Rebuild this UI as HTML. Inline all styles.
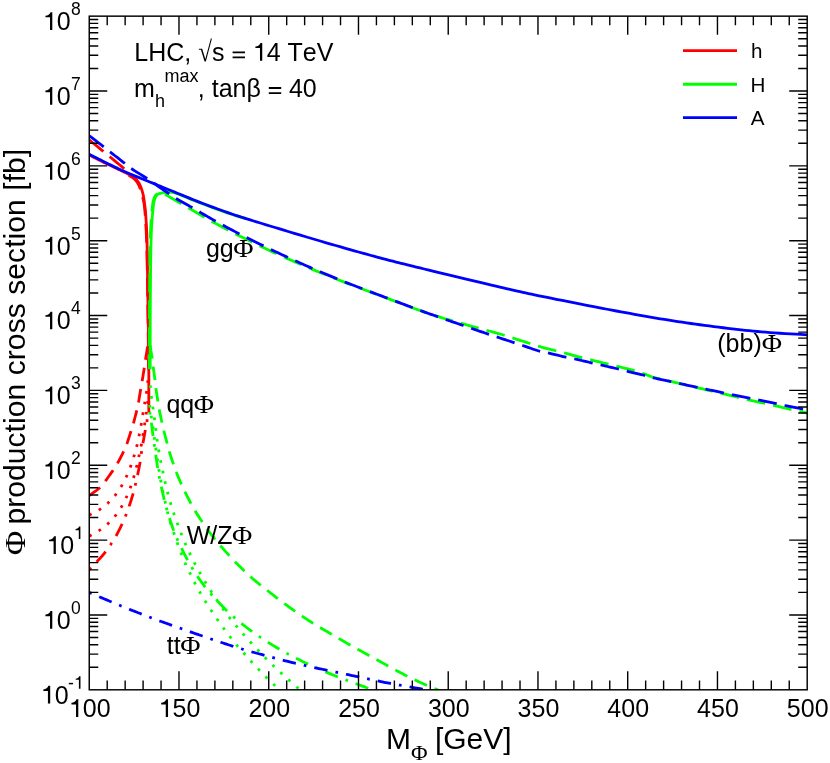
<!DOCTYPE html>
<html><head><meta charset="utf-8"><style>
html,body{margin:0;padding:0;background:#fff;}
svg{display:block;will-change:transform;}
text{font-family:"Liberation Sans",sans-serif;fill:#000;font-kerning:none;}
.ser{font-family:"Liberation Serif",serif;}
</style></head><body>
<svg width="830" height="763" viewBox="0 0 830 763">
<rect width="830" height="763" fill="#fff"/>
<defs><clipPath id="clip"><rect x="89.25" y="16.15" width="717.95" height="673.95"/></clipPath></defs>
<g clip-path="url(#clip)">
<path d="M89.30 140.00 L90.45 140.93 L92.04 142.22 L93.95 143.76 L96.02 145.44 L98.15 147.16 L100.19 148.81 L102.02 150.29 L103.50 151.50 L104.58 152.39 L105.38 153.04 L105.98 153.54 L106.48 153.97 L106.99 154.40 L107.59 154.91 L108.40 155.58 L109.50 156.50 L110.98 157.72 L112.77 159.20 L114.78 160.85 L116.88 162.58 L118.96 164.29 L120.91 165.91 L122.63 167.34 L124.00 168.50 L125.02 169.37 L125.81 170.05 L126.40 170.57 L126.84 170.97 L127.18 171.30 L127.46 171.61 L127.72 171.92 L128.00 172.30 L128.25 172.71 L128.41 173.11 L128.51 173.49 L128.56 173.86 L128.61 174.22 L128.68 174.56 L128.80 174.89 L129.00 175.20 L129.28 175.49 L129.61 175.75 L129.98 176.00 L130.38 176.23 L130.79 176.46 L131.20 176.69 L131.61 176.94 L132.00 177.20 L132.38 177.48 L132.77 177.77 L133.17 178.07 L133.56 178.37 L133.95 178.68 L134.32 178.99 L134.67 179.30 L135.00 179.60 L135.30 179.89 L135.57 180.17 L135.82 180.45 L136.06 180.72 L136.29 181.01 L136.52 181.32 L136.76 181.64 L137.00 182.00 L137.25 182.39 L137.51 182.80 L137.76 183.23 L138.02 183.68 L138.27 184.15 L138.52 184.62 L138.76 185.11 L139.00 185.60 L139.23 186.10 L139.45 186.60 L139.67 187.11 L139.88 187.63 L140.09 188.17 L140.30 188.72 L140.50 189.30 L140.70 189.90 L140.90 190.51 L141.08 191.13 L141.26 191.76 L141.44 192.42 L141.62 193.10 L141.81 193.82 L142.00 194.58 L142.20 195.40 L142.42 196.27 L142.65 197.20 L142.89 198.17 L143.13 199.18 L143.37 200.22 L143.60 201.27 L143.81 202.34 L144.00 203.40 L144.16 204.46 L144.31 205.51 L144.44 206.57 L144.56 207.65 L144.67 208.76 L144.78 209.92 L144.89 211.12 L145.00 212.40 L145.11 213.76 L145.22 215.19 L145.32 216.68 L145.42 218.21 L145.52 219.77 L145.62 221.33 L145.71 222.88 L145.80 224.40 L145.88 225.82 L145.96 227.12 L146.04 228.37 L146.11 229.65 L146.18 231.02 L146.25 232.56 L146.32 234.33 L146.40 236.40 L146.48 238.68 L146.57 241.04 L146.66 243.55 L146.74 246.27 L146.83 249.26 L146.92 252.57 L147.01 256.27 L147.10 260.40 L147.19 265.18 L147.28 270.63 L147.37 276.57 L147.46 282.77 L147.55 289.06 L147.64 295.23 L147.72 301.07 L147.80 306.40 L147.87 311.26 L147.94 315.86 L148.01 320.25 L148.08 324.46 L148.14 328.54 L148.19 332.53 L148.25 336.47 L148.30 340.40 L148.35 344.46 L148.40 348.68 L148.44 352.92 L148.48 357.02 L148.52 360.87 L148.55 364.31 L148.58 367.20 L148.60 369.40" fill="none" stroke="#ff0000" stroke-width="2.8" stroke-linejoin="round" stroke-linecap="butt" stroke-dasharray="18.90 8.10" stroke-dashoffset="0.7"/>
<path d="M89.30 155.00 L90.52 155.61 L92.14 156.44 L94.07 157.41 L96.21 158.50 L98.47 159.64 L100.76 160.79 L102.96 161.89 L105.00 162.90 L106.96 163.86 L108.99 164.84 L111.03 165.82 L113.04 166.79 L114.99 167.72 L116.83 168.59 L118.51 169.39 L120.00 170.10 L121.29 170.71 L122.41 171.24 L123.39 171.71 L124.25 172.11 L125.02 172.47 L125.72 172.80 L126.37 173.11 L127.00 173.40 L127.57 173.66 L128.03 173.87 L128.42 174.04 L128.75 174.18 L129.05 174.31 L129.34 174.45 L129.65 174.61 L130.00 174.80 L130.38 175.02 L130.75 175.25 L131.12 175.49 L131.50 175.74 L131.88 175.99 L132.25 176.26 L132.62 176.53 L133.00 176.80 L133.38 177.08 L133.77 177.37 L134.17 177.67 L134.56 177.98 L134.95 178.28 L135.32 178.59 L135.67 178.90 L136.00 179.20 L136.30 179.49 L136.57 179.77 L136.82 180.05 L137.06 180.32 L137.29 180.61 L137.52 180.92 L137.76 181.24 L138.00 181.60 L138.25 181.99 L138.51 182.40 L138.76 182.83 L139.02 183.28 L139.27 183.75 L139.52 184.22 L139.76 184.71 L140.00 185.20 L140.23 185.70 L140.45 186.20 L140.67 186.71 L140.88 187.23 L141.09 187.77 L141.30 188.32 L141.50 188.90 L141.70 189.50 L141.90 190.11 L142.09 190.73 L142.29 191.36 L142.47 192.02 L142.66 192.70 L142.84 193.42 L143.02 194.18 L143.20 195.00 L143.37 195.87 L143.55 196.80 L143.72 197.77 L143.88 198.78 L144.04 199.82 L144.20 200.87 L144.35 201.94 L144.50 203.00 L144.64 204.06 L144.78 205.11 L144.91 206.17 L145.03 207.25 L145.15 208.36 L145.27 209.52 L145.39 210.72 L145.50 212.00 L145.61 213.36 L145.72 214.79 L145.82 216.28 L145.92 217.81 L146.02 219.37 L146.12 220.93 L146.21 222.48 L146.30 224.00 L146.39 225.42 L146.47 226.72 L146.55 227.97 L146.62 229.25 L146.70 230.62 L146.77 232.16 L146.84 233.93 L146.90 236.00 L146.96 238.28 L147.01 240.64 L147.05 243.15 L147.09 245.88 L147.14 248.86 L147.18 252.17 L147.24 255.87 L147.30 260.00 L147.37 264.78 L147.46 270.23 L147.55 276.17 L147.64 282.38 L147.74 288.66 L147.83 294.83 L147.92 300.67 L148.00 306.00 L148.07 310.86 L148.14 315.46 L148.21 319.85 L148.28 324.06 L148.34 328.14 L148.39 332.13 L148.45 336.07 L148.50 340.00 L148.55 343.92 L148.60 347.79 L148.64 351.59 L148.68 355.31 L148.72 358.93 L148.75 362.43 L148.78 365.79 L148.80 369.00 L148.81 372.00 L148.82 374.77 L148.82 377.39 L148.82 379.90 L148.81 382.36 L148.81 384.82 L148.80 387.35 L148.80 390.00 L148.80 392.90 L148.80 396.07 L148.80 399.35 L148.80 402.61 L148.80 405.71 L148.80 408.50 L148.80 410.85 L148.80 412.60" fill="none" stroke="#ff0000" stroke-width="2.8" stroke-linejoin="round" stroke-linecap="butt"/>
<path d="M89.30 495.50 L90.12 494.92 L91.24 494.14 L92.57 493.20 L94.04 492.17 L95.55 491.09 L97.02 490.00 L98.37 488.95 L99.50 488.00 L100.42 487.15 L101.20 486.35 L101.90 485.59 L102.53 484.83 L103.15 484.04 L103.78 483.20 L104.46 482.27 L105.24 481.24 L106.13 480.05 L107.11 478.72 L108.13 477.29 L109.18 475.81 L110.21 474.34 L111.20 472.92 L112.11 471.60 L112.91 470.43 L113.58 469.46 L114.15 468.66 L114.63 467.97 L115.08 467.32 L115.51 466.66 L115.96 465.94 L116.47 465.08 L117.07 464.04 L117.78 462.77 L118.57 461.31 L119.42 459.72 L120.29 458.06 L121.15 456.39 L121.98 454.78 L122.73 453.28 L123.39 451.95 L123.94 450.84 L124.40 449.89 L124.79 449.06 L125.14 448.28 L125.48 447.50 L125.83 446.66 L126.20 445.69 L126.63 444.55 L127.11 443.19 L127.63 441.66 L128.17 440.01 L128.73 438.30 L129.27 436.58 L129.80 434.91 L130.30 433.34 L130.75 431.93 L131.14 430.71 L131.49 429.65 L131.81 428.68 L132.10 427.77 L132.40 426.85 L132.69 425.88 L133.01 424.82 L133.36 423.60 L133.75 422.19 L134.17 420.62 L134.61 418.95 L135.06 417.23 L135.50 415.51 L135.92 413.85 L136.31 412.30 L136.65 410.92 L136.94 409.74 L137.18 408.73 L137.39 407.84 L137.58 407.00 L137.76 406.16 L137.95 405.26 L138.15 404.24 L138.37 403.04 L138.63 401.63 L138.91 400.04 L139.20 398.33 L139.49 396.57 L139.78 394.80 L140.06 393.07 L140.33 391.46 L140.58 390.01 L140.79 388.76 L140.99 387.66 L141.16 386.66 L141.33 385.71 L141.50 384.77 L141.67 383.78 L141.86 382.70 L142.07 381.48 L142.30 380.08 L142.55 378.56 L142.82 376.94 L143.09 375.28 L143.36 373.61 L143.62 371.98 L143.87 370.43 L144.09 369.01 L144.29 367.75 L144.46 366.61 L144.62 365.55 L144.77 364.54 L144.92 363.52 L145.08 362.45 L145.26 361.29 L145.45 359.99 L145.69 358.50 L145.95 356.81 L146.24 355.02 L146.53 353.18 L146.82 351.39 L147.08 349.71 L147.31 348.22 L147.50 347.00 L147.64 346.04 L147.75 345.27 L147.82 344.67 L147.88 344.19 L147.92 343.81 L147.95 343.51 L147.97 343.25 L148.00 343.00" fill="none" stroke="#ff0000" stroke-width="2.8" stroke-linejoin="round" stroke-linecap="butt" stroke-dasharray="13.50 8.10" stroke-dashoffset="0"/>
<path d="M89.30 515.00 L89.34 514.99 L89.32 515.02 L89.30 515.05 L89.32 515.06 L89.40 515.04 L89.60 514.96 L89.95 514.78 L90.50 514.50 L91.28 514.10 L92.28 513.60 L93.44 513.02 L94.71 512.37 L96.04 511.67 L97.37 510.94 L98.65 510.20 L99.83 509.46 L100.94 508.71 L102.03 507.94 L103.12 507.13 L104.18 506.31 L105.24 505.45 L106.27 504.58 L107.28 503.69 L108.27 502.78 L109.24 501.85 L110.19 500.90 L111.13 499.93 L112.04 498.93 L112.93 497.92 L113.81 496.90 L114.67 495.86 L115.50 494.82 L116.32 493.76 L117.11 492.69 L117.89 491.61 L118.65 490.51 L119.38 489.40 L120.11 488.28 L120.81 487.15 L121.50 486.01 L122.18 484.86 L122.84 483.69 L123.48 482.51 L124.10 481.32 L124.71 480.12 L125.30 478.92 L125.89 477.71 L126.46 476.49 L127.02 475.27 L127.56 474.04 L128.09 472.80 L128.61 471.55 L129.11 470.30 L129.61 469.05 L130.09 467.79 L130.56 466.53 L131.02 465.26 L131.47 463.99 L131.90 462.72 L132.33 461.44 L132.74 460.15 L133.15 458.87 L133.55 457.58 L133.95 456.28 L134.34 454.99 L134.72 453.69 L135.10 452.38 L135.48 451.08 L135.84 449.77 L136.20 448.45 L136.54 447.14 L136.87 445.82 L137.19 444.50 L137.50 443.16 L137.80 441.83 L138.09 440.49 L138.37 439.15 L138.64 437.82 L138.91 436.50 L139.18 435.18 L139.44 433.87 L139.70 432.58 L139.96 431.29 L140.20 430.00 L140.45 428.72 L140.69 427.43 L140.92 426.13 L141.15 424.83 L141.38 423.51 L141.59 422.19 L141.80 420.86 L142.00 419.53 L142.21 418.20 L142.41 416.86 L142.63 415.52 L142.84 414.17 L143.07 412.83 L143.30 411.48 L143.53 410.12 L143.77 408.76 L144.00 407.41 L144.24 406.05 L144.47 404.69 L144.71 403.33 L144.93 402.00 L145.16 400.71 L145.39 399.43 L145.61 398.14 L145.84 396.83 L146.06 395.47 L146.28 394.03 L146.50 392.50 L146.73 390.76 L146.97 388.79 L147.22 386.69 L147.46 384.57 L147.69 382.54 L147.90 380.69 L148.07 379.14 L148.20 378.00" fill="none" stroke="#ff0000" stroke-width="2.8" stroke-linejoin="round" stroke-linecap="butt" stroke-dasharray="2.70 8.10" stroke-dashoffset="0"/>
<path d="M89.30 536.20 L89.34 536.18 L89.33 536.18 L89.31 536.19 L89.32 536.18 L89.41 536.13 L89.61 536.02 L89.96 535.81 L90.50 535.50 L91.28 535.07 L92.26 534.53 L93.41 533.91 L94.66 533.22 L95.98 532.48 L97.29 531.72 L98.56 530.95 L99.74 530.19 L100.84 529.43 L101.93 528.64 L103.02 527.83 L104.09 527.00 L105.15 526.15 L106.19 525.28 L107.21 524.40 L108.20 523.50 L109.18 522.58 L110.13 521.65 L111.07 520.69 L111.98 519.72 L112.88 518.73 L113.76 517.73 L114.62 516.71 L115.46 515.67 L116.28 514.62 L117.08 513.55 L117.86 512.47 L118.62 511.37 L119.36 510.25 L120.09 509.12 L120.80 507.97 L121.50 506.81 L122.18 505.63 L122.84 504.43 L123.49 503.21 L124.12 501.98 L124.73 500.74 L125.33 499.49 L125.91 498.24 L126.49 497.00 L127.05 495.77 L127.59 494.53 L128.12 493.29 L128.64 492.04 L129.14 490.80 L129.63 489.55 L130.11 488.29 L130.58 487.03 L131.03 485.76 L131.47 484.49 L131.89 483.21 L132.30 481.93 L132.70 480.64 L133.09 479.35 L133.48 478.06 L133.86 476.76 L134.24 475.46 L134.60 474.14 L134.96 472.82 L135.32 471.49 L135.66 470.16 L136.00 468.84 L136.33 467.53 L136.65 466.24 L136.96 464.96 L137.26 463.71 L137.55 462.46 L137.83 461.22 L138.11 459.98 L138.38 458.73 L138.66 457.47 L138.94 456.19 L139.23 454.88 L139.52 453.55 L139.81 452.22 L140.10 450.87 L140.38 449.52 L140.66 448.17 L140.93 446.83 L141.19 445.50 L141.44 444.18 L141.68 442.87 L141.91 441.57 L142.13 440.27 L142.35 438.97 L142.57 437.66 L142.79 436.34 L143.01 435.00 L143.23 433.65 L143.45 432.27 L143.67 430.88 L143.88 429.48 L144.10 428.09 L144.31 426.71 L144.52 425.34 L144.72 424.00 L144.91 422.73 L145.09 421.53 L145.27 420.36 L145.44 419.20 L145.62 418.00 L145.80 416.73 L145.99 415.34 L146.20 413.80 L146.44 411.98 L146.71 409.87 L147.00 407.59 L147.29 405.26 L147.57 403.01 L147.83 400.97 L148.04 399.26 L148.20 398.00" fill="none" stroke="#ff0000" stroke-width="2.8" stroke-linejoin="round" stroke-linecap="butt" stroke-dasharray="2.70 8.10" stroke-dashoffset="0"/>
<path d="M89.30 569.70 L89.58 569.40 L89.96 569.01 L90.40 568.54 L90.90 568.02 L91.43 567.46 L91.97 566.89 L92.50 566.33 L93.00 565.80 L93.48 565.29 L93.97 564.77 L94.46 564.25 L94.95 563.72 L95.46 563.18 L95.96 562.63 L96.48 562.08 L97.01 561.51 L97.56 560.93 L98.12 560.33 L98.70 559.72 L99.29 559.10 L99.87 558.47 L100.44 557.85 L101.00 557.24 L101.54 556.63 L102.05 556.05 L102.52 555.51 L102.97 554.98 L103.42 554.45 L103.87 553.90 L104.35 553.30 L104.86 552.65 L105.41 551.93 L106.02 551.12 L106.67 550.25 L107.35 549.32 L108.05 548.35 L108.76 547.36 L109.47 546.35 L110.17 545.33 L110.85 544.33 L111.50 543.34 L112.14 542.37 L112.78 541.39 L113.41 540.39 L114.04 539.37 L114.68 538.31 L115.34 537.19 L116.01 536.00 L116.72 534.71 L117.46 533.32 L118.22 531.86 L118.99 530.37 L119.75 528.87 L120.48 527.40 L121.17 525.99 L121.81 524.67 L122.39 523.44 L122.92 522.28 L123.41 521.17 L123.88 520.09 L124.33 519.02 L124.76 517.96 L125.20 516.88 L125.65 515.76 L126.10 514.64 L126.53 513.52 L126.95 512.42 L127.37 511.30 L127.79 510.16 L128.21 508.98 L128.64 507.75 L129.08 506.46 L129.55 505.07 L130.03 503.60 L130.53 502.07 L131.03 500.50 L131.52 498.94 L132.00 497.40 L132.45 495.92 L132.86 494.52 L133.23 493.22 L133.57 491.97 L133.88 490.77 L134.18 489.61 L134.46 488.46 L134.74 487.32 L135.02 486.17 L135.30 485.00 L135.59 483.84 L135.86 482.71 L136.12 481.59 L136.39 480.47 L136.65 479.32 L136.92 478.12 L137.20 476.85 L137.49 475.50 L137.80 474.01 L138.13 472.40 L138.48 470.71 L138.83 468.97 L139.17 467.24 L139.49 465.56 L139.79 463.97 L140.05 462.51 L140.26 461.19 L140.44 459.99 L140.59 458.87 L140.72 457.79 L140.85 456.75 L140.98 455.70 L141.12 454.61 L141.28 453.47 L141.46 452.29 L141.64 451.12 L141.83 449.94 L142.02 448.74 L142.22 447.52 L142.43 446.25 L142.65 444.94 L142.89 443.57 L143.14 442.10 L143.42 440.54 L143.72 438.91 L144.02 437.26 L144.32 435.60 L144.62 433.97 L144.91 432.41 L145.18 430.94 L145.43 429.56 L145.68 428.23 L145.91 426.95 L146.14 425.71 L146.37 424.50 L146.58 423.31 L146.80 422.15 L147.00 421.00 L147.20 419.82 L147.41 418.59 L147.62 417.37 L147.81 416.18 L148.00 415.07 L148.16 414.07 L148.29 413.24 L148.40 412.60" fill="none" stroke="#ff0000" stroke-width="2.8" stroke-linejoin="round" stroke-linecap="butt" stroke-dasharray="2.70 8.10 13.50 8.10" stroke-dashoffset="0"/>
<path d="M149.40 369.00 L149.40 366.80 L149.40 363.91 L149.40 360.47 L149.39 356.62 L149.39 352.52 L149.39 348.28 L149.40 344.06 L149.40 340.00 L149.41 336.07 L149.41 332.13 L149.42 328.14 L149.43 324.06 L149.44 319.85 L149.45 315.46 L149.47 310.86 L149.50 306.00 L149.53 300.67 L149.58 294.83 L149.62 288.66 L149.68 282.38 L149.73 276.17 L149.79 270.23 L149.84 264.78 L149.90 260.00 L149.96 255.89 L150.01 252.27 L150.07 249.04 L150.12 246.12 L150.19 243.45 L150.25 240.92 L150.32 238.47 L150.40 236.00 L150.48 233.61 L150.56 231.41 L150.65 229.37 L150.74 227.44 L150.84 225.58 L150.95 223.74 L151.07 221.90 L151.20 220.00 L151.35 218.01 L151.52 215.95 L151.70 213.87 L151.89 211.83 L152.08 209.86 L152.26 208.04 L152.44 206.40 L152.60 205.00 L152.74 203.87 L152.87 202.97 L152.99 202.26 L153.10 201.68 L153.21 201.19 L153.33 200.75 L153.46 200.30 L153.60 199.80 L153.75 199.27 L153.90 198.78 L154.06 198.32 L154.22 197.88 L154.39 197.46 L154.58 197.06 L154.78 196.68 L155.00 196.30 L155.24 195.93 L155.49 195.57 L155.76 195.22 L156.04 194.89 L156.33 194.58 L156.64 194.29 L156.96 194.03 L157.30 193.80 L157.64 193.59 L157.99 193.40 L158.35 193.23 L158.73 193.09 L159.12 192.98 L159.55 192.90 L160.00 192.88 L160.50 192.90 L161.05 192.98 L161.66 193.12 L162.30 193.31 L162.97 193.54 L163.66 193.79 L164.33 194.06 L164.98 194.34 L165.60 194.62 L166.17 194.90 L166.71 195.19 L167.23 195.50 L167.74 195.82 L168.26 196.16 L168.80 196.51 L169.38 196.87 L170.00 197.24 L170.67 197.63 L171.39 198.03 L172.13 198.46 L172.90 198.89 L173.68 199.33 L174.46 199.77 L175.24 200.22 L176.00 200.66 L176.74 201.10 L177.45 201.53 L178.16 201.97 L178.88 202.41 L179.60 202.85 L180.36 203.31 L181.15 203.79 L182.00 204.28 L182.88 204.78 L183.77 205.27 L184.68 205.77 L185.62 206.29 L186.62 206.83 L187.67 207.41 L188.79 208.03 L190.00 208.72 L191.29 209.47 L192.67 210.28 L194.12 211.14 L195.62 212.03 L197.18 212.95 L198.77 213.89 L200.38 214.83 L202.00 215.77 L203.65 216.71 L205.36 217.68 L207.10 218.67 L208.88 219.67 L210.66 220.67 L212.45 221.66 L214.24 222.65 L216.00 223.62 L217.71 224.55 L219.36 225.46 L220.99 226.34 L222.62 227.23 L224.31 228.13 L226.08 229.06 L227.96 230.05 L230.00 231.10 L232.21 232.23 L234.58 233.43 L237.06 234.68 L239.62 235.97 L242.24 237.27 L244.86 238.57 L247.46 239.85 L250.00 241.10 L252.50 242.32 L255.00 243.54 L257.50 244.76 L260.00 245.96 L262.50 247.16 L265.00 248.35 L267.50 249.53 L270.00 250.70 L272.50 251.86 L275.00 253.00 L277.50 254.14 L280.00 255.26 L282.50 256.38 L285.00 257.49 L287.50 258.60 L290.00 259.70 L292.50 260.80 L295.00 261.89 L297.50 262.98 L300.00 264.07 L302.50 265.14 L305.00 266.21 L307.50 267.27 L310.00 268.32 L312.50 269.37 L315.00 270.40 L317.50 271.43 L320.00 272.45 L322.50 273.46 L325.00 274.47 L327.50 275.47 L330.00 276.47 L332.43 277.45 L334.77 278.38 L337.06 279.30 L339.38 280.22 L341.77 281.16 L344.30 282.15 L347.02 283.21 L350.00 284.35 L353.34 285.62 L357.03 287.01 L360.96 288.49 L365.00 290.00 L369.04 291.51 L372.97 292.98 L376.66 294.35 L380.00 295.60 L382.98 296.71 L385.70 297.73 L388.23 298.67 L390.62 299.57 L392.94 300.43 L395.23 301.28 L397.57 302.15 L400.00 303.06 L402.50 303.99 L405.00 304.94 L407.50 305.88 L410.00 306.83 L412.50 307.76 L415.00 308.69 L417.50 309.61 L420.00 310.50 L422.50 311.38 L425.00 312.25 L427.50 313.11 L430.00 313.95 L432.50 314.79 L435.00 315.61 L437.50 316.41 L440.00 317.20 L442.50 317.97 L445.00 318.72 L447.50 319.45 L450.00 320.17 L452.50 320.88 L455.00 321.59 L457.50 322.29 L460.00 323.00 L462.50 323.71 L465.00 324.42 L467.50 325.12 L470.00 325.83 L472.50 326.52 L475.00 327.22 L477.50 327.91 L480.00 328.60 L482.50 329.28 L485.00 329.94 L487.50 330.60 L490.00 331.26 L492.50 331.92 L495.00 332.59 L497.50 333.28 L500.00 334.00 L502.53 334.75 L505.12 335.55 L507.72 336.36 L510.31 337.19 L512.87 338.01 L515.35 338.81 L517.74 339.58 L520.00 340.30 L522.18 340.99 L524.34 341.68 L526.43 342.35 L528.44 342.99 L530.33 343.60 L532.07 344.15 L533.64 344.66 L535.00 345.09 L536.10 345.45 L536.95 345.72 L537.61 345.94 L538.12 346.11 L538.56 346.26 L538.98 346.39 L539.44 346.53 L540.00 346.70 L540.59 346.87 L541.13 347.03 L541.66 347.18 L542.19 347.32 L542.76 347.48 L543.40 347.64 L544.14 347.83 L545.00 348.06 L546.00 348.31 L547.12 348.59 L548.34 348.89 L549.62 349.20 L550.96 349.53 L552.31 349.87 L553.67 350.20 L555.00 350.54 L556.29 350.87 L557.54 351.19 L558.79 351.51 L560.06 351.84 L561.39 352.19 L562.80 352.56 L564.33 352.96 L566.00 353.40 L567.87 353.90 L569.95 354.46 L572.16 355.05 L574.44 355.67 L576.73 356.29 L578.96 356.89 L581.07 357.45 L583.00 357.95 L584.73 358.39 L586.30 358.79 L587.78 359.15 L589.19 359.50 L590.57 359.83 L591.98 360.17 L593.44 360.52 L595.00 360.90 L596.66 361.30 L598.38 361.71 L600.15 362.13 L601.94 362.56 L603.74 362.99 L605.52 363.41 L607.28 363.84 L609.00 364.25 L610.67 364.66 L612.32 365.07 L613.95 365.47 L615.56 365.87 L617.17 366.27 L618.77 366.68 L620.38 367.08 L622.00 367.49 L623.65 367.89 L625.32 368.30 L627.01 368.71 L628.69 369.12 L630.34 369.54 L631.96 369.95 L633.52 370.37 L635.00 370.79 L636.41 371.21 L637.76 371.65 L639.06 372.08 L640.31 372.52 L641.53 372.96 L642.71 373.39 L643.87 373.81 L645.00 374.22 L646.07 374.61 L647.05 374.99 L647.97 375.37 L648.88 375.73 L649.79 376.10 L650.77 376.46 L651.82 376.82 L653.00 377.18 L654.29 377.54 L655.65 377.89 L657.08 378.24 L658.56 378.58 L660.10 378.93 L661.70 379.29 L663.33 379.67 L665.00 380.06 L666.70 380.46 L668.42 380.87 L670.19 381.29 L672.00 381.71 L673.88 382.16 L675.83 382.62 L677.87 383.10 L680.00 383.60 L682.24 384.13 L684.58 384.68 L687.00 385.26 L689.50 385.85 L692.06 386.46 L694.67 387.07 L697.32 387.70 L700.00 388.33 L702.72 388.97 L705.52 389.62 L708.36 390.28 L711.25 390.95 L714.17 391.63 L717.11 392.31 L720.06 393.00 L723.00 393.70 L725.99 394.42 L729.07 395.17 L732.19 395.93 L735.31 396.70 L738.40 397.45 L741.40 398.18 L744.28 398.87 L747.00 399.51 L749.56 400.09 L751.99 400.63 L754.32 401.13 L756.56 401.61 L758.73 402.07 L760.85 402.52 L762.93 402.96 L765.00 403.42 L767.05 403.87 L769.05 404.33 L771.02 404.78 L772.94 405.22 L774.80 405.65 L776.60 406.07 L778.34 406.47 L780.00 406.86 L781.53 407.21 L782.91 407.53 L784.19 407.83 L785.42 408.12 L786.66 408.41 L787.97 408.71 L789.40 409.05 L791.00 409.41 L792.90 409.85 L795.08 410.34 L797.44 410.87 L799.84 411.42 L802.15 411.94 L804.25 412.41 L806.01 412.81 L807.30 413.10" fill="none" stroke="#00ff00" stroke-width="2.8" stroke-linejoin="round" stroke-linecap="butt" stroke-dasharray="18.862 8.084" stroke-dashoffset="4"/>
<path d="M150.20 369.30 L150.20 367.10 L150.20 364.21 L150.20 360.77 L150.19 356.93 L150.19 352.82 L150.19 348.58 L150.20 344.36 L150.20 340.30 L150.21 336.37 L150.21 332.43 L150.22 328.44 L150.22 324.36 L150.24 320.15 L150.25 315.76 L150.27 311.16 L150.30 306.30 L150.33 300.97 L150.38 295.13 L150.42 288.96 L150.48 282.68 L150.53 276.47 L150.59 270.53 L150.64 265.08 L150.70 260.30 L150.76 256.19 L150.81 252.57 L150.87 249.34 L150.93 246.43 L150.99 243.75 L151.05 241.22 L151.12 238.77 L151.20 236.30 L151.28 233.91 L151.36 231.71 L151.45 229.67 L151.54 227.74 L151.64 225.88 L151.75 224.04 L151.87 222.20 L152.00 220.30 L152.15 218.31 L152.32 216.25 L152.50 214.17 L152.69 212.13 L152.88 210.16 L153.06 208.34 L153.24 206.70 L153.40 205.30 L153.54 204.17 L153.67 203.27 L153.79 202.56 L153.90 201.98 L154.01 201.49 L154.13 201.05 L154.26 200.60 L154.40 200.10 L154.55 199.57 L154.70 199.08 L154.86 198.62 L155.02 198.18 L155.19 197.76 L155.38 197.36 L155.58 196.98 L155.80 196.60 L156.03 196.23 L156.27 195.87 L156.53 195.53 L156.79 195.20 L157.08 194.89 L157.39 194.60 L157.73 194.34 L158.10 194.10 L158.51 193.89 L158.96 193.72 L159.44 193.57 L159.94 193.44 L160.46 193.33 L160.98 193.22 L161.50 193.11 L162.00 193.00 L162.49 192.88 L162.97 192.76 L163.45 192.64 L163.93 192.53 L164.42 192.43 L164.93 192.34 L165.45 192.26 L166.00 192.20 L166.58 192.15 L167.18 192.12 L167.80 192.10 L168.44 192.09 L169.08 192.09 L169.73 192.11 L170.37 192.15 L171.00 192.20 L171.63 192.27 L172.27 192.37 L172.92 192.48 L173.56 192.60 L174.20 192.74 L174.82 192.88 L175.42 193.04 L176.00 193.20 L176.42 193.32 L176.62 193.38 L176.74 193.42 L176.88 193.49 L177.15 193.62 L177.69 193.86 L178.60 194.23 L180.00 194.80 L181.94 195.58 L184.32 196.54 L187.06 197.65 L190.06 198.86 L193.25 200.14 L196.52 201.44 L199.80 202.72 L203.00 203.95 L206.26 205.18 L209.73 206.48 L213.32 207.82 L216.94 209.15 L220.50 210.45 L223.93 211.68 L227.12 212.81 L230.00 213.80 L232.64 214.67 L235.15 215.46 L237.51 216.16 L239.69 216.79 L241.66 217.34 L243.38 217.82 L244.84 218.22 L246.00 218.55" fill="none" stroke="#00ff00" stroke-width="2.8" stroke-linejoin="round" stroke-linecap="butt"/>
<path d="M150.00 343.00 L150.03 343.35 L150.06 343.77 L150.10 344.27 L150.14 344.84 L150.20 345.50 L150.28 346.24 L150.38 347.08 L150.50 348.00 L150.66 349.07 L150.86 350.29 L151.08 351.64 L151.32 353.05 L151.56 354.49 L151.80 355.92 L152.02 357.28 L152.21 358.54 L152.36 359.66 L152.50 360.68 L152.61 361.65 L152.72 362.60 L152.83 363.56 L152.94 364.59 L153.08 365.71 L153.24 366.97 L153.43 368.42 L153.64 370.02 L153.88 371.73 L154.12 373.50 L154.36 375.26 L154.59 376.98 L154.80 378.58 L154.99 380.02 L155.13 381.27 L155.25 382.36 L155.35 383.34 L155.43 384.26 L155.52 385.19 L155.63 386.16 L155.75 387.25 L155.92 388.49 L156.12 389.94 L156.36 391.55 L156.62 393.26 L156.90 395.03 L157.18 396.80 L157.45 398.51 L157.70 400.10 L157.93 401.51 L158.11 402.71 L158.27 403.74 L158.40 404.64 L158.52 405.48 L158.66 406.33 L158.81 407.23 L158.99 408.26 L159.21 409.46 L159.49 410.88 L159.82 412.47 L160.17 414.18 L160.55 415.95 L160.93 417.72 L161.30 419.44 L161.65 421.06 L161.97 422.51 L162.24 423.76 L162.47 424.86 L162.68 425.86 L162.89 426.81 L163.10 427.74 L163.33 428.73 L163.58 429.81 L163.88 431.03 L164.24 432.43 L164.64 433.98 L165.07 435.62 L165.52 437.30 L165.98 438.98 L166.41 440.61 L166.82 442.13 L167.19 443.50 L167.49 444.68 L167.75 445.71 L167.98 446.62 L168.19 447.49 L168.41 448.36 L168.65 449.28 L168.94 450.30 L169.29 451.49 L169.72 452.87 L170.20 454.41 L170.73 456.06 L171.29 457.77 L171.84 459.47 L172.39 461.12 L172.91 462.66 L173.37 464.04 L173.77 465.22 L174.11 466.24 L174.43 467.15 L174.72 468.01 L175.03 468.86 L175.37 469.77 L175.75 470.77 L176.20 471.93 L176.74 473.28 L177.35 474.78 L178.02 476.39 L178.71 478.05 L179.40 479.70 L180.08 481.29 L180.71 482.77 L181.28 484.09 L181.77 485.21 L182.18 486.15 L182.55 486.98 L182.91 487.76 L183.27 488.53 L183.67 489.36 L184.14 490.30 L184.69 491.41 L185.35 492.73 L186.11 494.22 L186.93 495.83 L187.79 497.49 L188.65 499.14 L189.49 500.74 L190.27 502.22 L190.96 503.53 L191.54 504.62 L192.03 505.54 L192.47 506.35 L192.87 507.09 L193.29 507.83 L193.74 508.62 L194.27 509.51 L194.91 510.56 L195.67 511.79 L196.53 513.16 L197.47 514.62 L198.44 516.13 L199.43 517.66 L200.41 519.15 L201.34 520.57 L202.20 521.86 L202.98 523.03 L203.71 524.11 L204.40 525.13 L205.07 526.11 L205.74 527.08 L206.43 528.04 L207.14 529.04 L207.91 530.08 L208.73 531.18 L209.60 532.33 L210.51 533.51 L211.43 534.69 L212.35 535.86 L213.24 536.99 L214.10 538.06 L214.90 539.06 L215.61 539.96 L216.25 540.75 L216.84 541.48 L217.42 542.18 L218.00 542.88 L218.63 543.63 L219.34 544.45 L220.15 545.38 L221.09 546.46 L222.15 547.66 L223.28 548.94 L224.46 550.26 L225.64 551.59 L226.79 552.86 L227.87 554.06 L228.84 555.14 L229.67 556.07 L230.40 556.87 L231.05 557.60 L231.67 558.28 L232.29 558.97 L232.97 559.69 L233.73 560.49 L234.62 561.40 L235.66 562.45 L236.81 563.60 L238.04 564.82 L239.32 566.09 L240.62 567.36 L241.91 568.62 L243.16 569.83 L244.34 570.96 L245.46 572.02 L246.54 573.05 L247.60 574.04 L248.65 575.01 L249.68 575.95 L250.70 576.88 L251.72 577.80 L252.75 578.70 L253.80 579.61 L254.86 580.51 L255.93 581.41 L256.99 582.28 L258.03 583.13 L259.03 583.94 L259.99 584.72 L260.89 585.44 L261.68 586.08 L262.36 586.61 L262.96 587.08 L263.54 587.53 L264.15 588.00 L264.83 588.52 L265.63 589.13 L266.59 589.88 L267.73 590.77 L269.00 591.77 L270.38 592.85 L271.84 593.99 L273.35 595.17 L274.88 596.36 L276.40 597.54 L277.88 598.68 L279.35 599.80 L280.85 600.93 L282.36 602.08 L283.88 603.22 L285.40 604.36 L286.91 605.48 L288.41 606.58 L289.88 607.66 L291.34 608.70 L292.77 609.72 L294.20 610.71 L295.62 611.70 L297.03 612.67 L298.44 613.63 L299.86 614.60 L301.29 615.57 L302.76 616.56 L304.28 617.57 L305.82 618.60 L307.35 619.61 L308.85 620.60 L310.29 621.54 L311.64 622.41 L312.87 623.20 L313.94 623.88 L314.86 624.45 L315.68 624.95 L316.44 625.41 L317.20 625.85 L318.01 626.32 L318.91 626.85 L319.95 627.47 L321.18 628.18 L322.54 628.98 L324.00 629.83 L325.51 630.71 L327.01 631.58 L328.47 632.43 L329.83 633.22 L331.04 633.93 L332.07 634.54 L332.95 635.06 L333.72 635.52 L334.45 635.96 L335.18 636.40 L335.98 636.87 L336.89 637.41 L337.98 638.04 L339.27 638.79 L340.75 639.64 L342.34 640.56 L344.00 641.51 L345.66 642.46 L347.25 643.37 L348.73 644.22 L350.03 644.95 L351.11 645.57 L352.03 646.08 L352.83 646.53 L353.57 646.94 L354.30 647.35 L355.07 647.78 L355.95 648.26 L356.98 648.83 L358.19 649.50 L359.54 650.25 L360.98 651.05 L362.47 651.88 L363.96 652.71 L365.42 653.51 L366.79 654.27 L368.03 654.95 L369.11 655.54 L370.05 656.06 L370.92 656.53 L371.74 656.97 L372.57 657.42 L373.45 657.90 L374.44 658.43 L375.57 659.05 L376.89 659.78 L378.38 660.59 L379.97 661.47 L381.62 662.37 L383.26 663.28 L384.83 664.14 L386.29 664.95 L387.57 665.65 L388.63 666.24 L389.51 666.74 L390.27 667.16 L390.96 667.55 L391.66 667.95 L392.42 668.37 L393.31 668.85 L394.39 669.43 L395.70 670.13 L397.21 670.93 L398.85 671.80 L400.56 672.69 L402.26 673.58 L403.89 674.43 L405.38 675.20 L406.67 675.87 L407.70 676.40 L408.51 676.82 L409.18 677.16 L409.79 677.47 L410.40 677.77 L411.08 678.11 L411.92 678.51 L412.99 679.02 L414.31 679.64 L415.82 680.35 L417.46 681.12 L419.19 681.93 L420.96 682.75 L422.72 683.55 L424.41 684.32 L425.98 685.02 L427.47 685.67 L428.95 686.29 L430.39 686.89 L431.80 687.47 L433.18 688.03 L434.50 688.57 L435.78 689.09 L437.00 689.60 L438.20 690.10 L439.40 690.61 L440.57 691.11 L441.69 691.59 L442.72 692.03 L443.63 692.42 L444.40 692.75 L445.00 693.00" fill="none" stroke="#00ff00" stroke-width="2.8" stroke-linejoin="round" stroke-linecap="butt" stroke-dasharray="13.50 8.10" stroke-dashoffset="-2.3"/>
<path d="M149.80 380.00 L149.91 381.17 L150.04 382.74 L150.21 384.61 L150.39 386.69 L150.59 388.86 L150.79 391.04 L151.00 393.12 L151.20 395.00 L151.40 396.74 L151.62 398.44 L151.84 400.12 L152.07 401.77 L152.29 403.38 L152.52 404.96 L152.74 406.50 L152.95 408.01 L153.15 409.46 L153.35 410.86 L153.54 412.22 L153.73 413.55 L153.92 414.86 L154.10 416.16 L154.28 417.48 L154.46 418.80 L154.64 420.14 L154.81 421.48 L154.98 422.81 L155.14 424.14 L155.31 425.47 L155.47 426.81 L155.64 428.15 L155.81 429.50 L155.98 430.86 L156.14 432.24 L156.31 433.62 L156.48 435.00 L156.65 436.39 L156.83 437.77 L157.01 439.14 L157.20 440.50 L157.39 441.86 L157.58 443.20 L157.78 444.55 L157.99 445.89 L158.20 447.22 L158.41 448.55 L158.63 449.88 L158.85 451.19 L159.08 452.50 L159.31 453.79 L159.54 455.07 L159.78 456.35 L160.03 457.62 L160.27 458.91 L160.52 460.20 L160.78 461.50 L161.04 462.82 L161.30 464.15 L161.57 465.49 L161.84 466.84 L162.12 468.19 L162.40 469.53 L162.68 470.87 L162.96 472.21 L163.24 473.54 L163.52 474.87 L163.80 476.19 L164.09 477.51 L164.38 478.84 L164.67 480.16 L164.96 481.47 L165.26 482.79 L165.56 484.10 L165.86 485.41 L166.15 486.72 L166.45 488.02 L166.76 489.33 L167.07 490.63 L167.39 491.93 L167.72 493.22 L168.06 494.51 L168.40 495.79 L168.76 497.07 L169.12 498.35 L169.48 499.62 L169.85 500.90 L170.23 502.18 L170.61 503.47 L171.00 504.76 L171.40 506.05 L171.80 507.35 L172.21 508.65 L172.63 509.95 L173.05 511.25 L173.47 512.54 L173.91 513.83 L174.34 515.11 L174.79 516.39 L175.24 517.66 L175.70 518.93 L176.16 520.19 L176.62 521.46 L177.09 522.72 L177.55 523.98 L178.02 525.24 L178.49 526.50 L178.96 527.75 L179.43 529.01 L179.91 530.26 L180.39 531.51 L180.88 532.76 L181.37 534.01 L181.87 535.27 L182.37 536.52 L182.88 537.78 L183.39 539.03 L183.91 540.29 L184.43 541.54 L184.95 542.78 L185.48 544.01 L186.01 545.23 L186.55 546.45 L187.09 547.65 L187.63 548.86 L188.18 550.06 L188.74 551.25 L189.31 552.46 L189.88 553.66 L190.46 554.87 L191.05 556.09 L191.64 557.30 L192.24 558.52 L192.85 559.74 L193.46 560.95 L194.08 562.15 L194.71 563.35 L195.34 564.54 L195.97 565.72 L196.61 566.89 L197.26 568.06 L197.91 569.23 L198.57 570.40 L199.23 571.57 L199.90 572.75 L200.57 573.93 L201.25 575.13 L201.94 576.32 L202.63 577.52 L203.32 578.72 L204.02 579.91 L204.72 581.09 L205.41 582.25 L206.11 583.40 L206.81 584.54 L207.51 585.66 L208.21 586.79 L208.92 587.90 L209.63 589.02 L210.34 590.14 L211.06 591.26 L211.78 592.40 L212.51 593.53 L213.25 594.67 L213.99 595.81 L214.73 596.95 L215.47 598.08 L216.22 599.21 L216.97 600.32 L217.71 601.43 L218.45 602.52 L219.19 603.61 L219.94 604.69 L220.68 605.77 L221.44 606.84 L222.21 607.92 L222.99 609.01 L223.78 610.10 L224.59 611.20 L225.40 612.30 L226.22 613.40 L227.05 614.49 L227.89 615.59 L228.72 616.67 L229.56 617.75 L230.41 618.81 L231.26 619.87 L232.12 620.93 L232.98 621.97 L233.85 623.02 L234.72 624.06 L235.59 625.10 L236.46 626.13 L237.33 627.17 L238.20 628.20 L239.07 629.23 L239.94 630.26 L240.82 631.29 L241.70 632.31 L242.58 633.32 L243.46 634.34 L244.35 635.35 L245.23 636.35 L246.12 637.35 L247.01 638.35 L247.91 639.34 L248.80 640.33 L249.70 641.32 L250.60 642.30 L251.51 643.28 L252.41 644.26 L253.32 645.23 L254.23 646.20 L255.14 647.17 L256.06 648.14 L256.98 649.11 L257.91 650.09 L258.84 651.07 L259.79 652.06 L260.73 653.06 L261.68 654.06 L262.64 655.05 L263.59 656.05 L264.55 657.03 L265.50 658.01 L266.44 658.97 L267.39 659.94 L268.33 660.89 L269.28 661.84 L270.23 662.79 L271.18 663.73 L272.13 664.67 L273.09 665.60 L274.06 666.53 L275.03 667.44 L276.00 668.36 L276.97 669.27 L277.95 670.17 L278.93 671.08 L279.92 671.98 L280.92 672.89 L281.92 673.80 L282.93 674.72 L283.94 675.63 L284.96 676.54 L285.98 677.45 L287.00 678.36 L288.02 679.27 L289.03 680.17 L290.02 681.07 L291.00 681.95 L291.98 682.83 L292.96 683.71 L293.94 684.59 L294.94 685.48 L295.96 686.38 L297.00 687.30 L298.14 688.29 L299.39 689.37 L300.70 690.48 L302.00 691.60 L303.24 692.65 L304.36 693.60 L305.30 694.40 L306.00 695.00" fill="none" stroke="#00ff00" stroke-width="2.8" stroke-linejoin="round" stroke-linecap="butt" stroke-dasharray="2.70 8.10" stroke-dashoffset="5.5"/>
<path d="M149.60 398.00 L149.61 398.64 L149.60 399.48 L149.60 400.48 L149.60 401.59 L149.62 402.79 L149.65 404.03 L149.71 405.28 L149.80 406.50 L149.93 407.72 L150.10 408.99 L150.29 410.30 L150.50 411.63 L150.72 412.98 L150.95 414.34 L151.17 415.69 L151.38 417.01 L151.58 418.32 L151.79 419.63 L152.00 420.93 L152.21 422.24 L152.42 423.54 L152.63 424.85 L152.83 426.17 L153.03 427.50 L153.21 428.83 L153.39 430.18 L153.57 431.53 L153.74 432.89 L153.91 434.25 L154.09 435.61 L154.26 436.96 L154.44 438.31 L154.62 439.65 L154.80 440.99 L154.98 442.32 L155.17 443.65 L155.35 444.98 L155.53 446.32 L155.72 447.65 L155.90 448.99 L156.09 450.32 L156.27 451.66 L156.45 453.00 L156.64 454.34 L156.82 455.68 L157.01 457.02 L157.20 458.37 L157.40 459.72 L157.59 461.07 L157.80 462.44 L158.00 463.80 L158.21 465.18 L158.41 466.54 L158.62 467.90 L158.84 469.26 L159.05 470.59 L159.27 471.91 L159.48 473.22 L159.70 474.52 L159.92 475.81 L160.15 477.10 L160.37 478.39 L160.60 479.69 L160.84 480.99 L161.09 482.30 L161.33 483.60 L161.58 484.91 L161.84 486.22 L162.10 487.53 L162.36 488.85 L162.63 490.18 L162.91 491.52 L163.19 492.87 L163.48 494.24 L163.77 495.63 L164.07 497.01 L164.38 498.40 L164.68 499.77 L164.99 501.14 L165.29 502.48 L165.59 503.80 L165.88 505.11 L166.18 506.41 L166.48 507.70 L166.78 508.98 L167.08 510.26 L167.40 511.54 L167.72 512.82 L168.05 514.10 L168.39 515.37 L168.73 516.63 L169.08 517.89 L169.44 519.15 L169.81 520.42 L170.18 521.69 L170.57 522.98 L170.98 524.28 L171.40 525.60 L171.83 526.94 L172.27 528.27 L172.71 529.60 L173.16 530.92 L173.60 532.22 L174.03 533.49 L174.44 534.72 L174.85 535.93 L175.25 537.11 L175.65 538.28 L176.06 539.46 L176.47 540.64 L176.89 541.84 L177.33 543.06 L177.78 544.32 L178.25 545.60 L178.73 546.90 L179.21 548.21 L179.70 549.52 L180.20 550.83 L180.70 552.13 L181.20 553.42 L181.70 554.70 L182.21 555.98 L182.72 557.25 L183.23 558.52 L183.75 559.78 L184.28 561.04 L184.82 562.30 L185.36 563.56 L185.93 564.81 L186.50 566.06 L187.09 567.31 L187.69 568.56 L188.29 569.80 L188.89 571.03 L189.49 572.25 L190.08 573.46 L190.66 574.66 L191.23 575.84 L191.80 577.00 L192.37 578.16 L192.95 579.32 L193.53 580.48 L194.13 581.65 L194.74 582.83 L195.37 584.03 L196.02 585.24 L196.67 586.45 L197.34 587.67 L198.01 588.89 L198.69 590.10 L199.37 591.29 L200.04 592.48 L200.71 593.64 L201.39 594.79 L202.06 595.93 L202.73 597.06 L203.41 598.19 L204.10 599.32 L204.80 600.45 L205.50 601.59 L206.22 602.75 L206.96 603.90 L207.70 605.06 L208.44 606.22 L209.20 607.38 L209.95 608.54 L210.71 609.69 L211.46 610.83 L212.21 611.96 L212.97 613.09 L213.72 614.21 L214.48 615.33 L215.24 616.45 L216.00 617.56 L216.77 618.67 L217.54 619.77 L218.31 620.88 L219.08 621.98 L219.86 623.08 L220.64 624.17 L221.42 625.27 L222.20 626.35 L222.99 627.44 L223.78 628.52 L224.57 629.59 L225.36 630.65 L226.16 631.72 L226.95 632.77 L227.76 633.83 L228.57 634.88 L229.38 635.94 L230.20 637.00 L231.03 638.06 L231.87 639.13 L232.71 640.21 L233.56 641.28 L234.41 642.35 L235.27 643.41 L236.14 644.46 L237.00 645.50 L237.87 646.53 L238.74 647.54 L239.62 648.55 L240.50 649.55 L241.39 650.54 L242.28 651.54 L243.17 652.54 L244.06 653.54 L244.97 654.55 L245.87 655.56 L246.79 656.58 L247.71 657.60 L248.62 658.61 L249.54 659.62 L250.46 660.63 L251.37 661.62 L252.27 662.61 L253.17 663.59 L254.07 664.56 L254.97 665.53 L255.87 666.50 L256.77 667.46 L257.68 668.43 L258.60 669.40 L259.53 670.38 L260.47 671.36 L261.41 672.35 L262.35 673.33 L263.30 674.31 L264.26 675.29 L265.22 676.26 L266.18 677.22 L267.14 678.17 L268.11 679.11 L269.09 680.04 L270.06 680.97 L271.04 681.90 L272.03 682.83 L273.01 683.76 L274.00 684.70 L275.05 685.70 L276.18 686.77 L277.34 687.88 L278.49 688.97 L279.58 690.00 L280.56 690.93 L281.38 691.71 L282.00 692.30" fill="none" stroke="#00ff00" stroke-width="2.8" stroke-linejoin="round" stroke-linecap="butt" stroke-dasharray="2.70 8.10" stroke-dashoffset="3.8"/>
<path d="M149.60 412.00 L149.62 412.10 L149.65 412.18 L149.67 412.27 L149.71 412.41 L149.76 412.61 L149.82 412.93 L149.90 413.38 L150.00 414.00 L150.13 414.82 L150.29 415.80 L150.47 416.93 L150.66 418.16 L150.86 419.47 L151.07 420.81 L151.27 422.17 L151.46 423.51 L151.64 424.86 L151.82 426.26 L152.00 427.71 L152.18 429.18 L152.35 430.67 L152.54 432.14 L152.72 433.60 L152.90 435.02 L153.09 436.41 L153.28 437.79 L153.47 439.17 L153.66 440.53 L153.85 441.88 L154.04 443.21 L154.23 444.52 L154.42 445.81 L154.60 447.05 L154.77 448.23 L154.94 449.38 L155.10 450.52 L155.27 451.67 L155.45 452.86 L155.64 454.11 L155.83 455.45 L156.05 456.90 L156.27 458.47 L156.51 460.10 L156.75 461.77 L156.99 463.43 L157.23 465.06 L157.47 466.62 L157.70 468.06 L157.91 469.39 L158.12 470.64 L158.33 471.82 L158.53 472.96 L158.74 474.08 L158.95 475.20 L159.16 476.33 L159.39 477.52 L159.63 478.71 L159.87 479.90 L160.11 481.09 L160.36 482.29 L160.62 483.51 L160.89 484.76 L161.17 486.05 L161.46 487.40 L161.77 488.83 L162.11 490.35 L162.46 491.92 L162.81 493.52 L163.17 495.11 L163.53 496.67 L163.88 498.17 L164.22 499.58 L164.54 500.89 L164.85 502.13 L165.15 503.32 L165.46 504.47 L165.76 505.60 L166.07 506.73 L166.39 507.86 L166.72 509.03 L167.05 510.19 L167.39 511.33 L167.72 512.46 L168.07 513.59 L168.42 514.74 L168.80 515.93 L169.19 517.17 L169.61 518.47 L170.05 519.87 L170.53 521.36 L171.03 522.91 L171.54 524.49 L172.07 526.07 L172.59 527.61 L173.10 529.09 L173.60 530.47 L174.09 531.75 L174.57 532.96 L175.04 534.12 L175.51 535.24 L175.99 536.33 L176.47 537.42 L176.95 538.51 L177.45 539.61 L177.94 540.71 L178.43 541.77 L178.91 542.81 L179.40 543.85 L179.91 544.92 L180.44 546.02 L181.01 547.18 L181.62 548.43 L182.29 549.78 L183.03 551.25 L183.80 552.80 L184.60 554.37 L185.40 555.94 L186.18 557.47 L186.93 558.90 L187.63 560.22 L188.27 561.40 L188.88 562.50 L189.45 563.51 L190.01 564.48 L190.56 565.41 L191.11 566.34 L191.68 567.29 L192.27 568.26 L192.86 569.24 L193.44 570.20 L194.02 571.14 L194.61 572.08 L195.22 573.05 L195.88 574.06 L196.58 575.12 L197.36 576.26 L198.22 577.51 L199.18 578.88 L200.19 580.31 L201.24 581.78 L202.30 583.24 L203.34 584.66 L204.33 585.99 L205.24 587.19 L206.10 588.28 L206.92 589.28 L207.71 590.22 L208.47 591.10 L209.21 591.94 L209.93 592.74 L210.63 593.52 L211.31 594.29 L211.92 594.99 L212.44 595.58 L212.91 596.12 L213.37 596.63 L213.87 597.18 L214.45 597.81 L215.15 598.56 L216.02 599.49 L217.10 600.64 L218.37 601.98 L219.77 603.46 L221.25 605.01 L222.75 606.57 L224.21 608.09 L225.58 609.48 L226.80 610.71 L227.89 611.76 L228.89 612.70 L229.82 613.55 L230.70 614.34 L231.56 615.08 L232.41 615.82 L233.27 616.55 L234.16 617.32 L235.04 618.09 L235.89 618.82 L236.72 619.53 L237.55 620.24 L238.41 620.97 L239.32 621.72 L240.30 622.52 L241.38 623.39 L242.59 624.34 L243.93 625.39 L245.36 626.50 L246.82 627.63 L248.29 628.75 L249.72 629.84 L251.07 630.85 L252.30 631.76 L253.40 632.56 L254.42 633.29 L255.37 633.94 L256.27 634.56 L257.14 635.15 L258.02 635.73 L258.91 636.32 L259.84 636.95 L260.77 637.57 L261.67 638.18 L262.57 638.78 L263.47 639.38 L264.40 640.00 L265.39 640.64 L266.45 641.32 L267.60 642.05 L268.88 642.85 L270.30 643.72 L271.80 644.65 L273.34 645.59 L274.89 646.53 L276.40 647.44 L277.83 648.30 L279.15 649.08 L280.35 649.77 L281.46 650.42 L282.52 651.01 L283.53 651.57 L284.51 652.11 L285.49 652.65 L286.48 653.18 L287.49 653.73 L288.50 654.27 L289.46 654.78 L290.40 655.28 L291.35 655.77 L292.33 656.28 L293.36 656.81 L294.48 657.38 L295.70 658.00 L297.02 658.66 L298.39 659.36 L299.83 660.09 L301.33 660.84 L302.91 661.63 L304.55 662.43 L306.26 663.25 L308.05 664.10 L309.97 664.99 L312.04 665.93 L314.22 666.91 L316.45 667.91 L318.69 668.90 L320.88 669.87 L322.98 670.78 L324.94 671.63 L326.79 672.41 L328.58 673.15 L330.31 673.86 L331.98 674.53 L333.59 675.17 L335.14 675.77 L336.62 676.36 L338.03 676.91 L339.35 677.43 L340.56 677.90 L341.69 678.33 L342.77 678.73 L343.81 679.13 L344.85 679.51 L345.90 679.91 L346.99 680.32 L348.09 680.74 L349.17 681.15 L350.24 681.55 L351.31 681.96 L352.40 682.38 L353.53 682.80 L354.71 683.25 L355.96 683.71 L357.29 684.21 L358.71 684.73 L360.18 685.27 L361.69 685.82 L363.21 686.37 L364.71 686.93 L366.19 687.47 L367.60 688.00 L369.03 688.54 L370.53 689.11 L372.05 689.70 L373.53 690.27 L374.92 690.81 L376.16 691.29 L377.21 691.69 L378.00 692.00" fill="none" stroke="#00ff00" stroke-width="2.8" stroke-linejoin="round" stroke-linecap="butt" stroke-dasharray="2.70 8.10 13.50 8.10" stroke-dashoffset="0"/>
<path d="M89.30 135.80 L90.50 136.71 L92.16 137.97 L94.14 139.47 L96.31 141.12 L98.52 142.80 L100.63 144.41 L102.50 145.84 L104.00 147.00 L105.06 147.83 L105.79 148.42 L106.30 148.85 L106.70 149.20 L107.11 149.56 L107.64 150.00 L108.40 150.62 L109.50 151.50 L111.02 152.69 L112.88 154.13 L114.98 155.75 L117.19 157.46 L119.41 159.17 L121.52 160.80 L123.42 162.27 L125.00 163.50 L126.18 164.44 L127.05 165.17 L127.70 165.75 L128.25 166.24 L128.80 166.71 L129.45 167.24 L130.32 167.88 L131.50 168.70 L133.02 169.71 L134.80 170.85 L136.76 172.07 L138.84 173.36 L140.98 174.68 L143.09 176.00 L145.12 177.28 L147.00 178.50 L148.72 179.65 L150.33 180.75 L151.88 181.82 L153.41 182.89 L154.94 183.98 L156.53 185.09 L158.20 186.26 L160.00 187.50 L161.95 188.84 L164.02 190.27 L166.17 191.76 L168.38 193.28 L170.60 194.80 L172.80 196.28 L174.94 197.69 L177.00 199.00 L178.95 200.19 L180.82 201.29 L182.64 202.32 L184.44 203.31 L186.24 204.30 L188.09 205.30 L190.00 206.36 L192.00 207.50 L194.09 208.71 L196.24 209.97 L198.44 211.27 L200.69 212.59 L202.97 213.94 L205.29 215.29 L207.63 216.65 L210.00 218.00 L212.40 219.36 L214.86 220.73 L217.35 222.12 L219.88 223.52 L222.41 224.91 L224.95 226.29 L227.49 227.66 L230.00 229.00 L232.50 230.32 L235.00 231.62 L237.50 232.90 L240.00 234.18 L242.50 235.44 L245.00 236.70 L247.50 237.95 L250.00 239.20 L252.50 240.45 L255.00 241.69 L257.50 242.92 L260.00 244.15 L262.50 245.37 L265.00 246.59 L267.50 247.80 L270.00 249.00 L272.50 250.20 L275.00 251.39 L277.50 252.57 L280.00 253.75 L282.50 254.92 L285.00 256.09 L287.50 257.25 L290.00 258.40 L292.50 259.55 L295.00 260.69 L297.50 261.83 L300.00 262.96 L302.50 264.08 L305.00 265.19 L307.50 266.30 L310.00 267.40 L312.50 268.49 L315.00 269.57 L317.50 270.64 L320.00 271.71 L322.50 272.76 L325.00 273.81 L327.50 274.86 L330.00 275.90 L332.43 276.91 L334.77 277.88 L337.06 278.82 L339.38 279.77 L341.77 280.74 L344.30 281.75 L347.02 282.83 L350.00 284.00 L353.37 285.30 L357.12 286.74 L361.13 288.27 L365.25 289.83 L369.34 291.38 L373.25 292.85 L376.85 294.21 L380.00 295.40 L382.62 296.39 L384.80 297.21 L386.67 297.91 L388.38 298.55 L390.03 299.17 L391.77 299.82 L393.71 300.54 L396.00 301.40 L398.64 302.39 L401.53 303.48 L404.59 304.64 L407.75 305.83 L410.94 307.03 L414.09 308.21 L417.14 309.35 L420.00 310.40 L422.69 311.38 L425.28 312.31 L427.79 313.21 L430.25 314.08 L432.68 314.94 L435.09 315.78 L437.53 316.64 L440.00 317.50 L442.50 318.37 L445.00 319.24 L447.50 320.10 L450.00 320.96 L452.50 321.82 L455.00 322.68 L457.50 323.54 L460.00 324.40 L462.50 325.26 L465.00 326.13 L467.50 327.00 L470.00 327.86 L472.50 328.73 L475.00 329.59 L477.50 330.45 L480.00 331.30 L482.50 332.15 L485.00 332.99 L487.50 333.83 L490.00 334.67 L492.50 335.50 L495.00 336.34 L497.50 337.17 L500.00 338.00 L502.50 338.83 L505.00 339.65 L507.50 340.47 L510.00 341.29 L512.50 342.11 L515.00 342.94 L517.50 343.77 L520.00 344.60 L522.58 345.47 L525.26 346.40 L527.98 347.36 L530.69 348.30 L533.31 349.21 L535.77 350.05 L538.03 350.79 L540.00 351.40 L541.60 351.85 L542.84 352.15 L543.83 352.34 L544.69 352.47 L545.52 352.58 L546.45 352.71 L547.57 352.90 L549.00 353.20 L550.80 353.61 L552.88 354.10 L555.14 354.64 L557.50 355.20 L559.86 355.76 L562.12 356.30 L564.20 356.79 L566.00 357.20 L567.45 357.51 L568.60 357.75 L569.57 357.93 L570.44 358.09 L571.32 358.25 L572.30 358.43 L573.50 358.68 L575.00 359.00 L576.89 359.43 L579.10 359.94 L581.53 360.50 L584.06 361.10 L586.59 361.70 L588.99 362.26 L591.17 362.77 L593.00 363.20 L594.41 363.52 L595.47 363.76 L596.29 363.95 L597.00 364.10 L597.71 364.25 L598.53 364.44 L599.59 364.68 L601.00 365.00 L602.84 365.43 L605.03 365.93 L607.46 366.50 L610.00 367.09 L612.54 367.68 L614.97 368.25 L617.16 368.76 L619.00 369.20 L620.42 369.54 L621.52 369.81 L622.38 370.03 L623.12 370.23 L623.85 370.41 L624.67 370.62 L625.69 370.88 L627.00 371.20 L628.65 371.60 L630.57 372.05 L632.66 372.54 L634.84 373.05 L637.05 373.57 L639.20 374.08 L641.21 374.56 L643.00 375.00 L644.52 375.39 L645.83 375.74 L647.00 376.07 L648.11 376.39 L649.23 376.71 L650.46 377.04 L651.85 377.40 L653.50 377.80 L655.48 378.26 L657.76 378.77 L660.24 379.31 L662.79 379.86 L665.33 380.41 L667.75 380.93 L669.94 381.40 L671.80 381.80 L673.24 382.12 L674.33 382.36 L675.18 382.54 L675.92 382.71 L676.65 382.87 L677.50 383.05 L678.58 383.29 L680.00 383.60 L681.85 384.00 L684.05 384.48 L686.47 385.01 L689.01 385.56 L691.55 386.11 L693.97 386.63 L696.16 387.10 L698.00 387.50 L699.42 387.80 L700.49 388.04 L701.34 388.22 L702.06 388.37 L702.78 388.52 L703.60 388.69 L704.64 388.91 L706.00 389.20 L707.75 389.57 L709.79 390.00 L712.05 390.48 L714.41 390.98 L716.78 391.48 L719.07 391.97 L721.17 392.41 L723.00 392.80 L724.48 393.11 L725.69 393.37 L726.72 393.59 L727.66 393.79 L728.61 394.00 L729.67 394.22 L730.93 394.48 L732.50 394.80 L734.45 395.20 L736.74 395.66 L739.24 396.16 L741.84 396.68 L744.44 397.20 L746.90 397.69 L749.13 398.13 L751.00 398.50 L752.43 398.78 L753.50 398.98 L754.33 399.13 L755.03 399.25 L755.73 399.37 L756.54 399.52 L757.59 399.72 L759.00 400.00 L760.84 400.37 L763.03 400.81 L765.46 401.31 L768.00 401.83 L770.54 402.35 L772.97 402.86 L775.16 403.31 L777.00 403.70 L778.41 404.00 L779.46 404.24 L780.27 404.43 L780.97 404.60 L781.67 404.77 L782.50 404.96 L783.57 405.20 L785.00 405.50 L786.91 405.89 L789.23 406.36 L791.81 406.88 L794.51 407.41 L797.18 407.94 L799.66 408.43 L801.82 408.86 L803.50 409.20 L804.70 409.44 L805.57 409.62 L806.17 409.75 L806.56 409.83 L806.80 409.89 L806.96 409.92 L807.11 409.96 L807.30 410.00" fill="none" stroke="#0000ff" stroke-width="2.8" stroke-linejoin="round" stroke-linecap="butt" stroke-dasharray="18.851 8.079" stroke-dashoffset="0.7"/>
<path d="M89.30 154.30 L90.51 154.92 L92.13 155.74 L94.06 156.73 L96.20 157.82 L98.46 158.96 L100.74 160.12 L102.95 161.22 L104.98 162.24 L106.93 163.19 L108.90 164.16 L110.89 165.12 L112.85 166.07 L114.77 166.99 L116.62 167.88 L118.38 168.71 L120.01 169.47 L121.47 170.15 L122.75 170.74 L123.92 171.28 L125.03 171.77 L126.13 172.26 L127.30 172.76 L128.58 173.31 L130.03 173.92 L131.67 174.61 L133.43 175.33 L135.28 176.08 L137.21 176.86 L139.17 177.65 L141.14 178.44 L143.10 179.22 L145.00 179.99 L146.84 180.74 L148.63 181.46 L150.39 182.18 L152.17 182.90 L153.99 183.63 L155.87 184.40 L157.86 185.21 L159.97 186.07 L162.21 186.99 L164.55 187.96 L166.98 188.96 L169.48 189.99 L172.05 191.05 L174.67 192.13 L177.32 193.21 L180.00 194.31 L182.70 195.41 L185.44 196.53 L188.22 197.67 L191.05 198.83 L193.93 200.00 L196.88 201.17 L199.89 202.36 L202.98 203.55 L206.25 204.79 L209.73 206.09 L213.33 207.41 L216.96 208.74 L220.54 210.03 L223.98 211.27 L227.18 212.40 L230.06 213.41 L232.53 214.27 L234.63 214.98 L236.49 215.59 L238.21 216.15 L239.90 216.68 L241.69 217.24 L243.68 217.85 L245.98 218.57 L248.48 219.36 L251.04 220.16 L253.69 220.98 L256.49 221.84 L259.47 222.76 L262.69 223.75 L266.18 224.81 L270.01 225.98 L274.24 227.26 L278.88 228.67 L283.83 230.17 L289.00 231.73 L294.30 233.33 L299.62 234.93 L304.89 236.50 L310.00 238.01 L315.06 239.51 L320.23 241.02 L325.43 242.54 L330.62 244.04 L335.73 245.52 L340.70 246.94 L345.48 248.31 L350.00 249.60 L354.33 250.82 L358.54 252.00 L362.61 253.13 L366.52 254.21 L370.24 255.23 L373.74 256.18 L377.02 257.07 L380.03 257.89 L382.64 258.59 L384.82 259.17 L386.69 259.67 L388.39 260.11 L390.03 260.53 L391.76 260.97 L393.71 261.46 L395.99 262.04 L398.50 262.67 L401.05 263.31 L403.71 263.97 L406.50 264.66 L409.48 265.39 L412.69 266.18 L416.19 267.03 L420.01 267.96 L424.24 268.99 L428.88 270.12 L433.84 271.31 L439.01 272.56 L444.30 273.84 L449.63 275.12 L454.89 276.38 L460.00 277.60 L465.13 278.82 L470.46 280.09 L475.87 281.37 L481.24 282.64 L486.45 283.87 L491.39 285.03 L495.94 286.10 L499.99 287.05 L503.41 287.86 L506.26 288.53 L508.70 289.11 L510.88 289.62 L512.95 290.10 L515.06 290.59 L517.37 291.11 L520.02 291.70 L522.85 292.32 L525.63 292.93 L528.44 293.54 L531.38 294.18 L534.52 294.85 L537.95 295.57 L541.76 296.35 L546.02 297.22 L550.89 298.21 L556.36 299.31 L562.26 300.48 L568.42 301.70 L574.67 302.94 L580.84 304.15 L586.77 305.31 L592.28 306.38 L597.43 307.38 L602.39 308.33 L607.19 309.25 L611.87 310.13 L616.46 311.00 L620.99 311.84 L625.50 312.67 L630.00 313.49 L634.47 314.29 L638.86 315.08 L643.18 315.84 L647.46 316.59 L651.72 317.32 L655.99 318.04 L660.28 318.76 L664.62 319.46 L669.00 320.16 L673.37 320.85 L677.76 321.52 L682.16 322.19 L686.58 322.85 L691.02 323.49 L695.48 324.12 L699.98 324.75 L704.54 325.36 L709.17 325.97 L713.84 326.58 L718.53 327.17 L723.20 327.74 L727.82 328.30 L732.37 328.83 L736.81 329.34 L741.10 329.81 L745.27 330.27 L749.34 330.70 L753.37 331.11 L757.41 331.50 L761.49 331.87 L765.67 332.23 L770.00 332.58 L774.72 332.92 L779.91 333.26 L785.32 333.59 L790.72 333.89 L795.86 334.18 L800.50 334.43 L804.39 334.64 L807.30 334.80" fill="none" stroke="#0000ff" stroke-width="2.8" stroke-linejoin="round" stroke-linecap="butt"/>
<path d="M89.30 592.40 L90.02 592.72 L90.97 593.14 L92.09 593.63 L93.34 594.19 L94.69 594.78 L96.10 595.40 L97.52 596.02 L98.91 596.62 L100.33 597.22 L101.84 597.87 L103.41 598.53 L105.01 599.21 L106.61 599.88 L108.18 600.54 L109.69 601.17 L111.10 601.76 L112.43 602.32 L113.70 602.85 L114.93 603.36 L116.11 603.86 L117.27 604.34 L118.39 604.81 L119.50 605.27 L120.59 605.72 L121.63 606.15 L122.58 606.55 L123.48 606.93 L124.37 607.30 L125.28 607.68 L126.25 608.08 L127.32 608.51 L128.52 608.99 L129.89 609.53 L131.41 610.12 L133.03 610.75 L134.70 611.40 L136.39 612.05 L138.04 612.69 L139.61 613.29 L141.06 613.85 L142.38 614.37 L143.64 614.86 L144.83 615.33 L145.98 615.77 L147.10 616.21 L148.20 616.64 L149.30 617.06 L150.41 617.48 L151.48 617.89 L152.50 618.28 L153.48 618.65 L154.46 619.02 L155.46 619.39 L156.53 619.79 L157.69 620.21 L158.97 620.68 L160.41 621.20 L162.01 621.78 L163.71 622.39 L165.47 623.02 L167.23 623.64 L168.94 624.25 L170.55 624.83 L172.02 625.35 L173.34 625.82 L174.55 626.26 L175.70 626.66 L176.78 627.05 L177.83 627.42 L178.86 627.79 L179.91 628.16 L180.99 628.54 L182.05 628.92 L183.07 629.28 L184.06 629.63 L185.06 629.99 L186.08 630.35 L187.16 630.73 L188.33 631.14 L189.60 631.59 L191.03 632.08 L192.61 632.63 L194.28 633.21 L196.00 633.81 L197.72 634.40 L199.39 634.98 L200.97 635.53 L202.39 636.02 L203.67 636.46 L204.83 636.86 L205.91 637.24 L206.93 637.60 L207.93 637.94 L208.92 638.28 L209.94 638.63 L211.00 639.00 L212.08 639.36 L213.13 639.72 L214.17 640.07 L215.22 640.42 L216.31 640.79 L217.46 641.17 L218.68 641.58 L220.00 642.01 L221.46 642.50 L223.06 643.03 L224.76 643.58 L226.50 644.16 L228.25 644.73 L229.95 645.28 L231.55 645.80 L233.01 646.27 L234.33 646.69 L235.54 647.07 L236.67 647.42 L237.75 647.75 L238.80 648.07 L239.84 648.38 L240.89 648.70 L241.99 649.03 L243.09 649.35 L244.14 649.66 L245.18 649.97 L246.22 650.27 L247.31 650.58 L248.45 650.91 L249.68 651.26 L251.02 651.63 L252.52 652.05 L254.19 652.51 L255.97 653.00 L257.79 653.49 L259.61 653.99 L261.37 654.47 L263.02 654.91 L264.50 655.31 L265.79 655.67 L266.95 655.98 L268.02 656.27 L269.01 656.55 L269.97 656.81 L270.93 657.07 L271.92 657.33 L272.97 657.61 L274.04 657.90 L275.08 658.18 L276.12 658.45 L277.17 658.73 L278.26 659.02 L279.42 659.32 L280.66 659.64 L282.01 659.98 L283.51 660.36 L285.18 660.78 L286.95 661.23 L288.78 661.68 L290.60 662.13 L292.37 662.57 L294.03 662.98 L295.54 663.34 L296.87 663.67 L298.08 663.96 L299.21 664.22 L300.27 664.47 L301.30 664.70 L302.32 664.94 L303.38 665.18 L304.49 665.43 L305.63 665.69 L306.74 665.94 L307.85 666.18 L308.98 666.43 L310.13 666.69 L311.34 666.95 L312.61 667.22 L313.97 667.52 L315.46 667.83 L317.08 668.17 L318.78 668.53 L320.52 668.89 L322.26 669.25 L323.95 669.60 L325.55 669.94 L327.01 670.25 L328.33 670.52 L329.54 670.78 L330.68 671.03 L331.76 671.26 L332.81 671.49 L333.85 671.71 L334.91 671.94 L336.01 672.17 L337.10 672.40 L338.14 672.62 L339.16 672.83 L340.19 673.04 L341.25 673.26 L342.39 673.50 L343.63 673.76 L344.99 674.04 L346.54 674.37 L348.28 674.73 L350.14 675.12 L352.06 675.52 L353.97 675.93 L355.81 676.31 L357.51 676.67 L359.00 676.99 L360.28 677.26 L361.40 677.50 L362.39 677.72 L363.30 677.92 L364.17 678.11 L365.05 678.30 L365.97 678.50 L366.98 678.71 L368.03 678.94 L369.07 679.16 L370.11 679.38 L371.18 679.61 L372.29 679.84 L373.45 680.09 L374.69 680.34 L376.02 680.62 L377.47 680.91 L379.06 681.23 L380.74 681.57 L382.46 681.92 L384.19 682.26 L385.89 682.60 L387.51 682.92 L389.02 683.21 L390.42 683.47 L391.75 683.72 L393.02 683.96 L394.25 684.19 L395.46 684.40 L396.64 684.62 L397.81 684.83 L398.99 685.04 L400.13 685.24 L401.19 685.43 L402.22 685.61 L403.24 685.79 L404.30 685.98 L405.42 686.17 L406.64 686.39 L408.00 686.62 L409.52 686.88 L411.19 687.17 L412.97 687.48 L414.81 687.79 L416.67 688.11 L418.52 688.43 L420.31 688.74 L421.99 689.03 L423.67 689.33 L425.42 689.64 L427.17 689.96 L428.87 690.27 L430.46 690.56 L431.89 690.82 L433.09 691.03 L434.00 691.20" fill="none" stroke="#0000ff" stroke-width="2.8" stroke-linejoin="round" stroke-linecap="butt" stroke-dasharray="2.70 8.10 13.50 8.10" stroke-dashoffset="0"/>
</g>
<rect x="89.25" y="16.15" width="717.95" height="673.65" fill="none" stroke="#000" stroke-width="1.45"/>
<path d="M107.20 689.80 v-9.20 M107.20 16.15 v9.20 M125.15 689.80 v-9.20 M125.15 16.15 v9.20 M143.10 689.80 v-9.20 M143.10 16.15 v9.20 M161.05 689.80 v-9.20 M161.05 16.15 v9.20 M178.99 689.80 v-18.50 M178.99 16.15 v18.50 M196.94 689.80 v-9.20 M196.94 16.15 v9.20 M214.89 689.80 v-9.20 M214.89 16.15 v9.20 M232.84 689.80 v-9.20 M232.84 16.15 v9.20 M250.79 689.80 v-9.20 M250.79 16.15 v9.20 M268.74 689.80 v-18.50 M268.74 16.15 v18.50 M286.69 689.80 v-9.20 M286.69 16.15 v9.20 M304.63 689.80 v-9.20 M304.63 16.15 v9.20 M322.58 689.80 v-9.20 M322.58 16.15 v9.20 M340.53 689.80 v-9.20 M340.53 16.15 v9.20 M358.48 689.80 v-18.50 M358.48 16.15 v18.50 M376.43 689.80 v-9.20 M376.43 16.15 v9.20 M394.38 689.80 v-9.20 M394.38 16.15 v9.20 M412.33 689.80 v-9.20 M412.33 16.15 v9.20 M430.28 689.80 v-9.20 M430.28 16.15 v9.20 M448.23 689.80 v-18.50 M448.23 16.15 v18.50 M466.17 689.80 v-9.20 M466.17 16.15 v9.20 M484.12 689.80 v-9.20 M484.12 16.15 v9.20 M502.07 689.80 v-9.20 M502.07 16.15 v9.20 M520.02 689.80 v-9.20 M520.02 16.15 v9.20 M537.97 689.80 v-18.50 M537.97 16.15 v18.50 M555.92 689.80 v-9.20 M555.92 16.15 v9.20 M573.87 689.80 v-9.20 M573.87 16.15 v9.20 M591.82 689.80 v-9.20 M591.82 16.15 v9.20 M609.76 689.80 v-9.20 M609.76 16.15 v9.20 M627.71 689.80 v-18.50 M627.71 16.15 v18.50 M645.66 689.80 v-9.20 M645.66 16.15 v9.20 M663.61 689.80 v-9.20 M663.61 16.15 v9.20 M681.56 689.80 v-9.20 M681.56 16.15 v9.20 M699.51 689.80 v-9.20 M699.51 16.15 v9.20 M717.46 689.80 v-18.50 M717.46 16.15 v18.50 M735.41 689.80 v-9.20 M735.41 16.15 v9.20 M753.35 689.80 v-9.20 M753.35 16.15 v9.20 M771.30 689.80 v-9.20 M771.30 16.15 v9.20 M789.25 689.80 v-9.20 M789.25 16.15 v9.20 M89.25 667.27 h9.00 M807.20 667.27 h-9.00 M89.25 654.09 h9.00 M807.20 654.09 h-9.00 M89.25 644.74 h9.00 M807.20 644.74 h-9.00 M89.25 637.48 h9.00 M807.20 637.48 h-9.00 M89.25 631.56 h9.00 M807.20 631.56 h-9.00 M89.25 626.54 h9.00 M807.20 626.54 h-9.00 M89.25 622.20 h9.00 M807.20 622.20 h-9.00 M89.25 618.37 h9.00 M807.20 618.37 h-9.00 M89.25 614.95 h18.00 M807.20 614.95 h-18.00 M89.25 592.42 h9.00 M807.20 592.42 h-9.00 M89.25 579.24 h9.00 M807.20 579.24 h-9.00 M89.25 569.89 h9.00 M807.20 569.89 h-9.00 M89.25 562.63 h9.00 M807.20 562.63 h-9.00 M89.25 556.71 h9.00 M807.20 556.71 h-9.00 M89.25 551.69 h9.00 M807.20 551.69 h-9.00 M89.25 547.35 h9.00 M807.20 547.35 h-9.00 M89.25 543.52 h9.00 M807.20 543.52 h-9.00 M89.25 540.10 h18.00 M807.20 540.10 h-18.00 M89.25 517.57 h9.00 M807.20 517.57 h-9.00 M89.25 504.39 h9.00 M807.20 504.39 h-9.00 M89.25 495.04 h9.00 M807.20 495.04 h-9.00 M89.25 487.78 h9.00 M807.20 487.78 h-9.00 M89.25 481.86 h9.00 M807.20 481.86 h-9.00 M89.25 476.84 h9.00 M807.20 476.84 h-9.00 M89.25 472.50 h9.00 M807.20 472.50 h-9.00 M89.25 468.67 h9.00 M807.20 468.67 h-9.00 M89.25 465.25 h18.00 M807.20 465.25 h-18.00 M89.25 442.72 h9.00 M807.20 442.72 h-9.00 M89.25 429.54 h9.00 M807.20 429.54 h-9.00 M89.25 420.19 h9.00 M807.20 420.19 h-9.00 M89.25 412.93 h9.00 M807.20 412.93 h-9.00 M89.25 407.01 h9.00 M807.20 407.01 h-9.00 M89.25 401.99 h9.00 M807.20 401.99 h-9.00 M89.25 397.65 h9.00 M807.20 397.65 h-9.00 M89.25 393.82 h9.00 M807.20 393.82 h-9.00 M89.25 390.40 h18.00 M807.20 390.40 h-18.00 M89.25 367.87 h9.00 M807.20 367.87 h-9.00 M89.25 354.69 h9.00 M807.20 354.69 h-9.00 M89.25 345.34 h9.00 M807.20 345.34 h-9.00 M89.25 338.08 h9.00 M807.20 338.08 h-9.00 M89.25 332.16 h9.00 M807.20 332.16 h-9.00 M89.25 327.14 h9.00 M807.20 327.14 h-9.00 M89.25 322.80 h9.00 M807.20 322.80 h-9.00 M89.25 318.97 h9.00 M807.20 318.97 h-9.00 M89.25 315.55 h18.00 M807.20 315.55 h-18.00 M89.25 293.02 h9.00 M807.20 293.02 h-9.00 M89.25 279.84 h9.00 M807.20 279.84 h-9.00 M89.25 270.49 h9.00 M807.20 270.49 h-9.00 M89.25 263.23 h9.00 M807.20 263.23 h-9.00 M89.25 257.31 h9.00 M807.20 257.31 h-9.00 M89.25 252.29 h9.00 M807.20 252.29 h-9.00 M89.25 247.95 h9.00 M807.20 247.95 h-9.00 M89.25 244.12 h9.00 M807.20 244.12 h-9.00 M89.25 240.70 h18.00 M807.20 240.70 h-18.00 M89.25 218.17 h9.00 M807.20 218.17 h-9.00 M89.25 204.99 h9.00 M807.20 204.99 h-9.00 M89.25 195.64 h9.00 M807.20 195.64 h-9.00 M89.25 188.38 h9.00 M807.20 188.38 h-9.00 M89.25 182.46 h9.00 M807.20 182.46 h-9.00 M89.25 177.44 h9.00 M807.20 177.44 h-9.00 M89.25 173.10 h9.00 M807.20 173.10 h-9.00 M89.25 169.27 h9.00 M807.20 169.27 h-9.00 M89.25 165.85 h18.00 M807.20 165.85 h-18.00 M89.25 143.32 h9.00 M807.20 143.32 h-9.00 M89.25 130.14 h9.00 M807.20 130.14 h-9.00 M89.25 120.79 h9.00 M807.20 120.79 h-9.00 M89.25 113.53 h9.00 M807.20 113.53 h-9.00 M89.25 107.61 h9.00 M807.20 107.61 h-9.00 M89.25 102.59 h9.00 M807.20 102.59 h-9.00 M89.25 98.25 h9.00 M807.20 98.25 h-9.00 M89.25 94.42 h9.00 M807.20 94.42 h-9.00 M89.25 91.00 h18.00 M807.20 91.00 h-18.00 M89.25 68.47 h9.00 M807.20 68.47 h-9.00 M89.25 55.29 h9.00 M807.20 55.29 h-9.00 M89.25 45.94 h9.00 M807.20 45.94 h-9.00 M89.25 38.68 h9.00 M807.20 38.68 h-9.00 M89.25 32.76 h9.00 M807.20 32.76 h-9.00 M89.25 27.74 h9.00 M807.20 27.74 h-9.00 M89.25 23.40 h9.00 M807.20 23.40 h-9.00 M89.25 19.57 h9.00 M807.20 19.57 h-9.00" stroke="#000" stroke-width="1.4" fill="none"/>
<path d="M683 50.60 H737" stroke="#ff0000" stroke-width="2.9" fill="none"/>
<path d="M683 84.30 H737" stroke="#00ff00" stroke-width="2.9" fill="none"/>
<path d="M683 117.60 H737" stroke="#0000ff" stroke-width="2.9" fill="none"/>
<path transform="translate(68.90,717.00) scale(25.000,-25.000)" d="M.376 0L.285 0L.285 .505L.102 .505L.102 .568C.205 .574 .27 .612 .306 .709L.376 .709Z" fill="#000"/>
<text x="82.80" y="717.00" font-size="25" class="sans" text-anchor="start" >0</text>
<text x="96.70" y="717.00" font-size="25" class="sans" text-anchor="start" >0</text>
<path transform="translate(158.64,717.00) scale(25.000,-25.000)" d="M.376 0L.285 0L.285 .505L.102 .505L.102 .568C.205 .574 .27 .612 .306 .709L.376 .709Z" fill="#000"/>
<text x="172.54" y="717.00" font-size="25" class="sans" text-anchor="start" >5</text>
<text x="186.44" y="717.00" font-size="25" class="sans" text-anchor="start" >0</text>
<text x="248.39" y="717.00" font-size="25" class="sans" text-anchor="start" >2</text>
<text x="262.29" y="717.00" font-size="25" class="sans" text-anchor="start" >0</text>
<text x="276.19" y="717.00" font-size="25" class="sans" text-anchor="start" >0</text>
<text x="338.13" y="717.00" font-size="25" class="sans" text-anchor="start" >2</text>
<text x="352.03" y="717.00" font-size="25" class="sans" text-anchor="start" >5</text>
<text x="365.93" y="717.00" font-size="25" class="sans" text-anchor="start" >0</text>
<text x="427.88" y="717.00" font-size="25" class="sans" text-anchor="start" >3</text>
<text x="441.77" y="717.00" font-size="25" class="sans" text-anchor="start" >0</text>
<text x="455.67" y="717.00" font-size="25" class="sans" text-anchor="start" >0</text>
<text x="517.62" y="717.00" font-size="25" class="sans" text-anchor="start" >3</text>
<text x="531.52" y="717.00" font-size="25" class="sans" text-anchor="start" >5</text>
<text x="545.42" y="717.00" font-size="25" class="sans" text-anchor="start" >0</text>
<text x="607.36" y="717.00" font-size="25" class="sans" text-anchor="start" >4</text>
<text x="621.26" y="717.00" font-size="25" class="sans" text-anchor="start" >0</text>
<text x="635.16" y="717.00" font-size="25" class="sans" text-anchor="start" >0</text>
<text x="697.11" y="717.00" font-size="25" class="sans" text-anchor="start" >4</text>
<text x="711.01" y="717.00" font-size="25" class="sans" text-anchor="start" >5</text>
<text x="724.91" y="717.00" font-size="25" class="sans" text-anchor="start" >0</text>
<text x="786.85" y="717.00" font-size="25" class="sans" text-anchor="start" >5</text>
<text x="800.75" y="717.00" font-size="25" class="sans" text-anchor="start" >0</text>
<text x="814.65" y="717.00" font-size="25" class="sans" text-anchor="start" >0</text>
<path transform="translate(40.80,703.60) scale(25.000,-25.000)" d="M.376 0L.285 0L.285 .505L.102 .505L.102 .568C.205 .574 .27 .612 .306 .709L.376 .709Z" fill="#000"/>
<text x="54.70" y="703.60" font-size="25" class="sans" text-anchor="start" >0</text>
<text x="68.07" y="688.70" font-size="17.5" class="sans" text-anchor="start" >-</text>
<path transform="translate(73.90,688.70) scale(17.500,-17.500)" d="M.376 0L.285 0L.285 .505L.102 .505L.102 .568C.205 .574 .27 .612 .306 .709L.376 .709Z" fill="#000"/>
<path transform="translate(42.90,628.75) scale(25.000,-25.000)" d="M.376 0L.285 0L.285 .505L.102 .505L.102 .568C.205 .574 .27 .612 .306 .709L.376 .709Z" fill="#000"/>
<text x="56.80" y="628.75" font-size="25" class="sans" text-anchor="start" >0</text>
<text x="71.00" y="613.85" font-size="17.5" class="sans" text-anchor="start" >0</text>
<path transform="translate(46.45,553.90) scale(25.000,-25.000)" d="M.376 0L.285 0L.285 .505L.102 .505L.102 .568C.205 .574 .27 .612 .306 .709L.376 .709Z" fill="#000"/>
<text x="60.35" y="553.90" font-size="25" class="sans" text-anchor="start" >0</text>
<path transform="translate(73.80,539.00) scale(17.500,-17.500)" d="M.376 0L.285 0L.285 .505L.102 .505L.102 .568C.205 .574 .27 .612 .306 .709L.376 .709Z" fill="#000"/>
<path transform="translate(42.90,479.05) scale(25.000,-25.000)" d="M.376 0L.285 0L.285 .505L.102 .505L.102 .568C.205 .574 .27 .612 .306 .709L.376 .709Z" fill="#000"/>
<text x="56.80" y="479.05" font-size="25" class="sans" text-anchor="start" >0</text>
<text x="71.00" y="464.15" font-size="17.5" class="sans" text-anchor="start" >2</text>
<path transform="translate(42.90,404.20) scale(25.000,-25.000)" d="M.376 0L.285 0L.285 .505L.102 .505L.102 .568C.205 .574 .27 .612 .306 .709L.376 .709Z" fill="#000"/>
<text x="56.80" y="404.20" font-size="25" class="sans" text-anchor="start" >0</text>
<text x="71.00" y="389.30" font-size="17.5" class="sans" text-anchor="start" >3</text>
<path transform="translate(42.90,329.35) scale(25.000,-25.000)" d="M.376 0L.285 0L.285 .505L.102 .505L.102 .568C.205 .574 .27 .612 .306 .709L.376 .709Z" fill="#000"/>
<text x="56.80" y="329.35" font-size="25" class="sans" text-anchor="start" >0</text>
<text x="71.00" y="314.45" font-size="17.5" class="sans" text-anchor="start" >4</text>
<path transform="translate(42.90,254.50) scale(25.000,-25.000)" d="M.376 0L.285 0L.285 .505L.102 .505L.102 .568C.205 .574 .27 .612 .306 .709L.376 .709Z" fill="#000"/>
<text x="56.80" y="254.50" font-size="25" class="sans" text-anchor="start" >0</text>
<text x="71.00" y="239.60" font-size="17.5" class="sans" text-anchor="start" >5</text>
<path transform="translate(42.90,179.65) scale(25.000,-25.000)" d="M.376 0L.285 0L.285 .505L.102 .505L.102 .568C.205 .574 .27 .612 .306 .709L.376 .709Z" fill="#000"/>
<text x="56.80" y="179.65" font-size="25" class="sans" text-anchor="start" >0</text>
<text x="71.00" y="164.75" font-size="17.5" class="sans" text-anchor="start" >6</text>
<path transform="translate(42.90,104.80) scale(25.000,-25.000)" d="M.376 0L.285 0L.285 .505L.102 .505L.102 .568C.205 .574 .27 .612 .306 .709L.376 .709Z" fill="#000"/>
<text x="56.80" y="104.80" font-size="25" class="sans" text-anchor="start" >0</text>
<text x="71.00" y="89.90" font-size="17.5" class="sans" text-anchor="start" >7</text>
<path transform="translate(42.90,29.95) scale(25.000,-25.000)" d="M.376 0L.285 0L.285 .505L.102 .505L.102 .568C.205 .574 .27 .612 .306 .709L.376 .709Z" fill="#000"/>
<text x="56.80" y="29.95" font-size="25" class="sans" text-anchor="start" >0</text>
<text x="71.00" y="15.05" font-size="17.5" class="sans" text-anchor="start" >8</text>
<text x="750.90" y="58.30" font-size="20.6" class="sans" text-anchor="start" >h</text>
<text x="750.60" y="91.60" font-size="20.6" class="sans" text-anchor="start" >H</text>
<text x="750.80" y="125.20" font-size="20.6" class="sans" text-anchor="start" >A</text>
<text x="134.25" y="60.70" font-size="25" class="sans" text-anchor="start" >LHC,</text>
<text class="ser" transform="translate(198.15,60.7) scale(1,1.15)" font-size="25">√</text>
<text x="212.00" y="60.70" font-size="25" class="sans" text-anchor="start" >s</text>
<path d="M232.60 52.30h12.4M232.60 57.40h12.4" stroke="#000" stroke-width="1.85" fill="none"/>
<path transform="translate(252.85,60.70) scale(25.000,-25.000)" d="M.376 0L.285 0L.285 .505L.102 .505L.102 .568C.205 .574 .27 .612 .306 .709L.376 .709Z" fill="#000"/>
<text x="266.75" y="60.70" font-size="25" class="sans" text-anchor="start" >4 TeV</text>
<text x="134.00" y="96.80" font-size="25" class="sans" text-anchor="start" >m</text>
<text x="155.00" y="106.60" font-size="18" class="sans" text-anchor="start" >h</text>
<text x="164.50" y="81.50" font-size="18" class="sans" text-anchor="start" >max</text>
<text x="197.85" y="96.60" font-size="25" class="sans" text-anchor="start" >, tanβ</text>
<path d="M268.80 88.00h12.4M268.80 93.10h12.4" stroke="#000" stroke-width="1.85" fill="none"/>
<text x="288.95" y="96.60" font-size="25" class="sans" text-anchor="start" >40</text>
<text x="205.90" y="256.80" font-size="25" class="sans" text-anchor="start" >gg</text>
<text class="ser" transform="translate(233.27,256.80) scale(1.110,1)" font-size="25">Φ</text>
<text x="717.30" y="352.30" font-size="25" class="sans" text-anchor="start" >(bb)</text>
<text class="ser" transform="translate(761.77,352.30) scale(1.110,1)" font-size="25">Φ</text>
<text x="166.40" y="412.60" font-size="25" class="sans" text-anchor="start" >qq</text>
<text class="ser" transform="translate(193.67,412.60) scale(1.110,1)" font-size="25">Φ</text>
<text x="186.70" y="543.50" font-size="25" class="sans" text-anchor="start" >W/Z</text>
<text class="ser" transform="translate(231.97,543.50) scale(1.110,1)" font-size="25">Φ</text>
<text x="166.80" y="653.80" font-size="25" class="sans" text-anchor="start" >tt</text>
<text class="ser" transform="translate(180.17,653.80) scale(1.110,1)" font-size="25">Φ</text>
<text x="385.90" y="748.70" font-size="30" class="sans" text-anchor="start" >M</text>
<text class="ser" transform="translate(411.02,760.40) scale(1.080,1)" font-size="21">Φ</text>
<text x="434.90" y="748.70" font-size="30" class="sans" text-anchor="start" >[GeV]</text>
<text class="ser" transform="translate(24.9,555.3) rotate(-90) scale(1.12,1)" font-size="30">Φ</text>
<text transform="translate(24.9,524.6) rotate(-90)" font-size="30" letter-spacing="0.08" text-anchor="start">production cross section [fb]</text>
</svg>
</body></html>
